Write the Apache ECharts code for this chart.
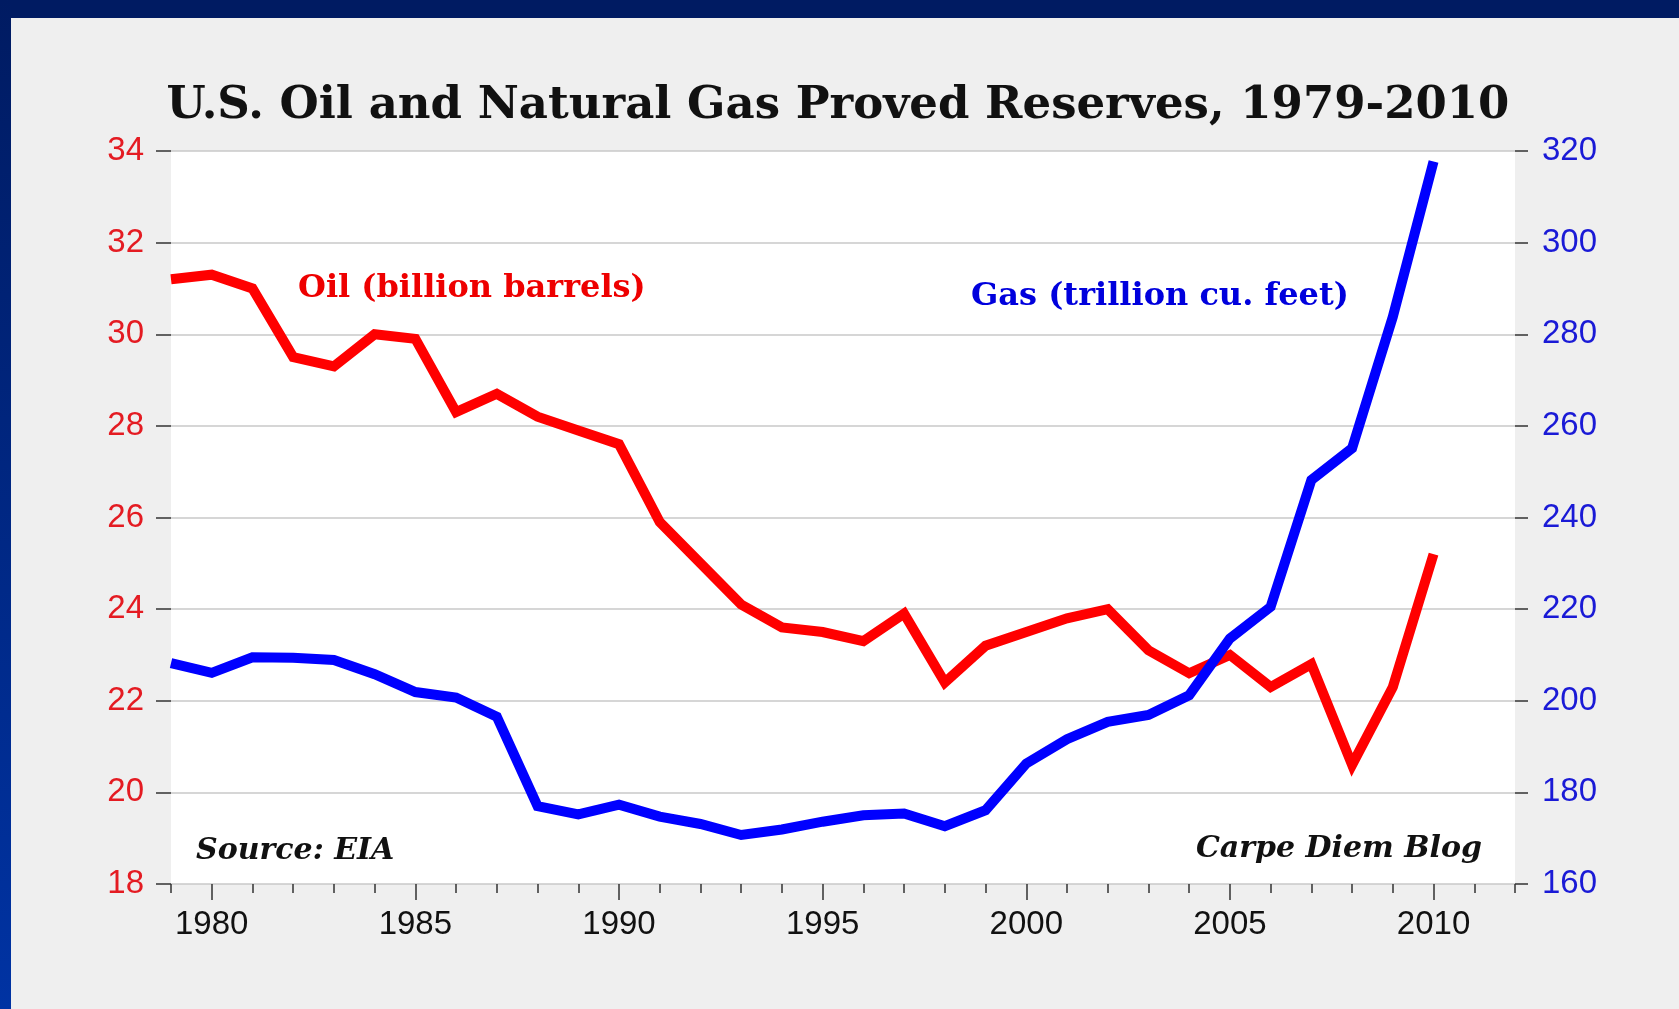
<!DOCTYPE html>
<html>
<head>
<meta charset="utf-8">
<title>U.S. Oil and Natural Gas Proved Reserves</title>
<script src="https://cdn.jsdelivr.net/npm/echarts@6/dist/echarts.min.js"></script>
<style>
html, body { margin: 0; padding: 0; background: #efefef; }
#chart { width: 1679px; height: 1009px; }
</style>
</head>
<body>
<div id="chart"></div>
<script>
// years on the x axis
var years = [1979, 1980, 1981, 1982, 1983, 1984, 1985, 1986, 1987, 1988, 1989, 1990,
  1991, 1992, 1993, 1994, 1995, 1996, 1997, 1998, 1999, 2000, 2001, 2002,
  2003, 2004, 2005, 2006, 2007, 2008, 2009, 2010];

// oil, billion barrels (left axis)
var oil = [31.2, 31.3, 31.0, 29.5, 29.3, 30.0, 29.9, 28.3, 28.7, 28.2, 27.9, 27.6,
  25.9, 25.0, 24.1, 23.6, 23.5, 23.3, 23.9, 22.4, 23.2, 23.5, 23.8, 24.0,
  23.1, 22.6, 23.0, 22.3, 22.8, 20.6, 22.3, 25.2];

// gas, trillion cubic feet (right axis)
var gas = [208.2, 206.1, 209.5, 209.4, 208.9, 205.8, 201.9, 200.7, 196.5, 177.0, 175.2, 177.3,
  174.7, 173.1, 170.7, 171.9, 173.6, 175.0, 175.4, 172.6, 176.1, 186.3, 191.6, 195.4,
  196.9, 201.2, 213.6, 220.5, 248.2, 255.1, 283.8, 317.7];

// tick labels
var minorTickYears = [];
for (var y = 1979; y <= 2012; y++) minorTickYears.push(y);
var labelYears = [1980, 1985, 1990, 1995, 2000, 2005, 2010];

var chart = echarts.init(document.getElementById('chart'));

var serif = '"DejaVu Serif", serif';
var sans = '"Liberation Sans", Arial, sans-serif';

var option = {
  backgroundColor: '#efefef',
  animation: false,
  grid: {
    left: 171, right: 164, top: 151, bottom: 125,
    show: true, backgroundColor: '#ffffff', borderWidth: 0
  },
  graphic: [
    // navy frame, top and left
    { type: 'rect', left: 0, top: 0, shape: { width: 1679, height: 18 }, style: { fill: '#001b62' } },
    { type: 'rect', left: 0, top: 0, shape: { width: 11, height: 1009 },
      style: { fill: new echarts.graphic.LinearGradient(0, 0, 0, 1, [
        { offset: 0, color: '#001b62' }, { offset: 1, color: '#0033a3' }]) } },
    { type: 'text', style: {
        text: 'U.S. Oil and Natural Gas Proved Reserves, 1979-2010',
        x: 838, y: 106, textAlign: 'center', textVerticalAlign: 'middle',
        font: 'bold 45px ' + serif, fill: '#111111' } },
    { type: 'text', style: {
        text: 'Oil (billion barrels)', x: 298, y: 289,
        textAlign: 'left', textVerticalAlign: 'middle',
        font: 'bold 32px ' + serif, fill: '#ee0000' } },
    { type: 'text', style: {
        text: 'Gas (trillion cu. feet)', x: 971, y: 297,
        textAlign: 'left', textVerticalAlign: 'middle',
        font: 'bold 32px ' + serif, fill: '#0000dd' } },
    { type: 'text', style: {
        text: 'Source: EIA', x: 196, y: 851,
        textAlign: 'left', textVerticalAlign: 'middle',
        font: 'italic bold 30px ' + serif, fill: '#111111' } },
    { type: 'text', style: {
        text: 'Carpe Diem Blog', x: 1482, y: 849,
        textAlign: 'right', textVerticalAlign: 'middle',
        font: 'italic bold 30px ' + serif, fill: '#111111' } }
  ],
  xAxis: [
    {
      type: 'value', min: 1979, max: 2012,
      axisLine: { show: false },
      axisTick: { show: true, customValues: minorTickYears, length: 9, lineStyle: { color: '#333', width: 1.5 } },
      axisLabel: {
        customValues: labelYears, color: '#111', fontFamily: sans, fontSize: 33, margin: 24,
        formatter: function (v) { return String(v); }
      },
      splitLine: { show: false }
    },
    {
      // longer ticks every 5 years
      type: 'value', min: 1979, max: 2012, position: 'bottom',
      axisLine: { show: false },
      axisTick: { show: true, customValues: labelYears, length: 16, lineStyle: { color: '#333', width: 1.5 } },
      axisLabel: { show: false },
      splitLine: { show: false }
    }
  ],
  yAxis: [
    {
      type: 'value', min: 18, max: 34, interval: 2, position: 'left',
      axisLine: { show: false },
      axisTick: { show: true, length: 15, lineStyle: { color: '#333', width: 1.5 } },
      axisLabel: { color: '#e41b22', fontFamily: sans, fontSize: 33, margin: 27 },
      splitLine: { show: true, lineStyle: { color: '#c8c8c8', width: 1.5 } }
    },
    {
      type: 'value', min: 160, max: 320, interval: 20, position: 'right',
      axisLine: { show: false },
      axisTick: { show: true, length: 13, lineStyle: { color: '#333', width: 1.5 } },
      axisLabel: { color: '#1a1ad6', fontFamily: sans, fontSize: 33, margin: 27 },
      splitLine: { show: false }
    }
  ],
  series: [
    {
      name: 'Oil', type: 'line', xAxisIndex: 0, yAxisIndex: 0,
      data: years.map(function (yr, i) { return [yr, oil[i]]; }),
      showSymbol: false, lineStyle: { color: '#ff0000', width: 10, join: 'miter' }
    },
    {
      name: 'Gas', type: 'line', xAxisIndex: 0, yAxisIndex: 1,
      data: years.map(function (yr, i) { return [yr, gas[i]]; }),
      showSymbol: false, lineStyle: { color: '#0000ff', width: 10, join: 'miter' }
    }
  ]
};

chart.setOption(option);
</script>
</body>
</html>
